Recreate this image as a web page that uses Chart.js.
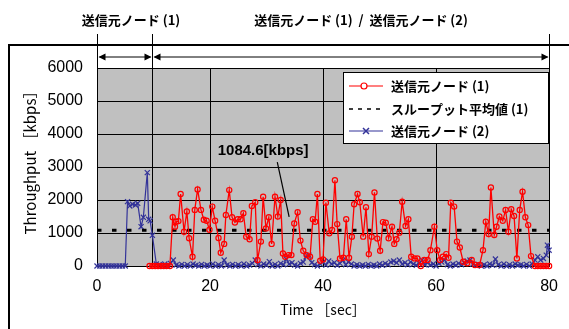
<!DOCTYPE html>
<html>
<head>
<meta charset="utf-8">
<script src="https://cdn.jsdelivr.net/npm/chart.js@4"></script>
<style>
body { margin: 0; background: #fff; }
</style>
</head>
<body>
<canvas id="chart" width="569" height="329"></canvas>
<script>
var node1Label = "送信元ノード (1)";
var avgLabel = "スループット平均値 (1)";
var node2Label = "送信元ノード (2)";
var phaseLabels = ["送信元ノード (1)", "送信元ノード (1)  /  送信元ノード (2)"];
var phaseBounds = [0, 9.7, 80];
var avgValue = 1084.6;
var avgText = "1084.6[kbps]";
var xTicks = [0, 20, 40, 60, 80];
var yTicks = [0, 1000, 2000, 3000, 4000, 5000, 6000];

// node (1), seconds / kbps
var node1Time = [
  9.3, 9.8, 10.3, 10.8, 11.3, 11.8, 12.3, 12.9,
  13.4, 13.8, 14.0, 14.4, 14.8, 15.4, 15.9, 16.3, 16.9, 17.3,
  17.8, 18.4, 18.9, 19.4, 19.9, 20.4, 20.9, 21.5, 21.9, 22.5,
  22.8, 23.4, 23.9, 24.4, 24.9, 25.4, 25.9, 26.4, 27.0, 27.4,
  28.0, 28.4, 29.0, 29.4, 29.9, 30.4, 30.9, 31.5, 32.0, 32.5,
  32.9, 33.3, 33.9, 34.4, 34.9, 35.5, 36.0, 36.5, 37.1, 37.7,
  38.2, 38.6, 39.0, 39.5, 40.0, 40.5, 41.1, 41.6, 42.1, 42.5,
  43.0, 43.6, 44.1, 44.6, 45.1, 45.5, 46.1, 46.5, 47.1, 47.6,
  48.1, 48.6, 49.1, 49.6, 50.1, 50.6, 51.1, 51.6, 52.2, 52.6,
  53.0, 53.5, 54.0, 54.6, 55.1, 55.6, 56.2, 56.7, 57.3, 57.9,
  58.5, 59.0, 59.7, 60.2, 60.7, 61.2, 61.8, 62.2, 62.6, 63.2,
  63.7, 64.2, 64.8, 65.5, 66.3, 66.9, 67.7, 68.3, 68.8, 69.3,
  69.7, 70.3, 70.7, 71.2, 71.8, 72.3, 72.8, 73.3, 73.8, 74.3,
  74.8, 75.3, 75.8, 76.3, 76.8, 77.5, 78.0, 78.5, 79.0, 79.5, 80.0
];
var node1Kbps = [
  0, 0, 0, 0, 0, 0, 0, 0,
  1475, 1190, 1340, 1360, 2180, 1040, 1650, 840, 280, 1700,
  2320, 1700, 1400, 1370, 1100, 1800, 1370, 850, 400, 670,
  1545, 2300, 1475, 1320, 1415, 1415, 1600, 890, 810, 1820,
  1930, 180, 740, 2100, 1140, 1475, 670, 2100, 1500, 2000,
  380, 280, 330, 330, 1290, 1630, 770, 460, 330, 280,
  1415, 1340, 2180, 160, 200, 1920, 990, 1090, 2600, 1270,
  230, 250, 1415, 250, 890, 1870, 2180, 1930, 890, 1780,
  360, 890, 2230, 830, 460, 1330, 1310, 840, 1190, 670,
  810, 1010, 1950, 1210, 1415, 280, 230, 230, 0, 180,
  180, 480, 1190, 480, 180, 280, 360, 250, 1920, 1800,
  740, 560, 130, 80, 180, 30, 30, 480, 1340, 970,
  2380, 940, 1190, 1500, 1370, 1700, 1040, 1720, 1515, 230,
  1700, 2250, 1475, 1240, 300, 0, 0, 0, 0, 0, 0
];

// node (2), seconds / kbps
var node2Time = [
  0.0, 0.5, 1.0, 1.5, 2.0, 2.5, 3.0, 3.5, 4.0, 4.5, 5.0,
  5.4, 5.8, 6.3, 6.8, 7.2, 7.8, 8.2, 8.9, 9.15, 9.4, 9.8, 10.5,
  11.0, 11.5, 12.0, 12.5, 13.0, 13.5, 14.0, 14.5, 15.0, 15.5,
  16.0, 16.5, 17.0, 17.5, 18.0, 18.5, 19.0, 19.5, 20.0, 20.5,
  21.0, 21.5, 22.0, 22.5, 23.0, 23.5, 24.0, 24.5, 25.0, 25.5,
  26.0, 26.5, 27.0, 27.5, 28.0, 28.5, 29.0, 29.5, 30.0, 30.5,
  31.0, 31.5, 32.0, 32.5, 33.0, 33.5, 34.0, 34.5, 35.0, 35.5,
  36.0, 36.5, 37.0, 37.5, 38.0, 38.5, 39.0, 39.5, 40.0, 40.5,
  41.0, 41.5, 42.0, 42.5, 43.0, 43.5, 44.0, 44.5, 45.0, 45.5,
  46.0, 46.5, 47.0, 47.5, 48.0, 48.5, 49.0, 49.5, 50.0, 50.5,
  51.0, 51.5, 52.0, 52.5, 53.0, 53.5, 54.0, 54.5, 55.0, 55.5,
  56.0, 56.5, 57.0, 57.5, 58.0, 58.5, 59.0, 59.5, 60.0, 60.5,
  61.0, 61.5, 62.0, 62.5, 63.0, 63.5, 64.0, 64.5, 65.0, 65.5,
  66.0, 66.5, 67.0, 67.5, 68.0, 68.5, 69.0, 69.5, 70.0, 70.5,
  71.0, 71.5, 72.0, 72.5, 73.0, 73.5, 74.0, 74.5, 75.0, 75.5,
  76.0, 76.5, 77.0, 77.5, 78.0, 78.5, 79.0, 79.5, 79.7, 80.0
];
var node2Kbps = [
  0, 0, 0, 0, 0, 0, 0, 0, 0, 0, 0,
  1950, 1820, 1870, 1850, 1900, 1190, 1475, 2830, 1415, 1370, 930, 60,
  40, 0, 60, 0, 80, 180, 30, 0, 50, 0,
  40, 0, 60, 20, 0, 50, 0, 30, 0, 60,
  0, 40, 0, 180, 30, 0, 50, 0, 40, 0,
  60, 0, 30, 80, 180, 40, 0, 60, 20, 130,
  0, 50, 0, 80, 40, 210, 60, 100, 30, 0,
  80, 120, 280, 330, 100, 40, 0, 60, 120, 30,
  150, 60, 100, 20, 80, 180, 40, 120, 60, 0,
  40, 0, 30, 0, 50, 0, 30, 0, 60, 20,
  80, 40, 120, 150, 100, 180, 60, 100, 40, 120,
  60, 20, 80, 180, 40, 100, 30, 60, 0, 80,
  120, 180, 40, 0, 60, 20, 80, 40, 100, 150,
  180, 60, 20, 50, 0, 40, 0, 60, 20, 210,
  40, 0, 60, 0, 40, 0, 60, 20, 40, 0,
  50, 0, 60, 180, 280, 180, 230, 330, 630, 480
];

function pairs(ts, vs) {
  return ts.map(function(t, i) { return {x: t, y: vs[i]}; });
}

var JP = '"Noto Sans CJK JP", sans-serif';
var NUM = '"Liberation Sans", Arial, sans-serif';

function drawArrow(ctx, x1, x2, y) {
  ctx.beginPath();
  ctx.moveTo(x1 + 2, y);
  ctx.lineTo(x2 - 2, y);
  ctx.stroke();
  ctx.beginPath();
  ctx.moveTo(x1 + 1, y);
  ctx.lineTo(x1 + 8, y - 3.5);
  ctx.lineTo(x1 + 8, y + 3.5);
  ctx.closePath();
  ctx.fill();
  ctx.beginPath();
  ctx.moveTo(x2 - 1, y);
  ctx.lineTo(x2 - 8, y - 3.5);
  ctx.lineTo(x2 - 8, y + 3.5);
  ctx.closePath();
  ctx.fill();
}

var decor = {
  id: 'decor',
  beforeDraw: function(chart) {
    var ctx = chart.ctx, a = chart.chartArea;
    ctx.save();
    ctx.fillStyle = '#fff';
    ctx.fillRect(0, 0, chart.width, chart.height);
    ctx.fillStyle = '#C0C0C0';
    ctx.fillRect(a.left, a.top, a.right - a.left, a.bottom - a.top);
    ctx.restore();
  },
  beforeDatasetsDraw: function(chart) {
    var ctx = chart.ctx, a = chart.chartArea, xs = chart.scales.x;
    ctx.save();
    ctx.strokeStyle = '#000';
    ctx.lineWidth = 1;
    var px = Math.round(xs.getPixelForValue(phaseBounds[1])) + 0.5;
    ctx.beginPath();
    ctx.moveTo(px, a.top);
    ctx.lineTo(px, a.bottom);
    ctx.stroke();
    ctx.restore();
  },
  afterDraw: function(chart) {
    var ctx = chart.ctx, a = chart.chartArea, xs = chart.scales.x, ys = chart.scales.y;
    ctx.save();

    // outer frame
    ctx.strokeStyle = '#000';
    ctx.lineWidth = 2;
    ctx.strokeRect(9, 45, 600, 400);

    // phase markers above the plot
    ctx.lineWidth = 1;
    ctx.fillStyle = '#000';
    var bx = phaseBounds.map(function(b) { return Math.round(xs.getPixelForValue(b)) + 0.5; });
    bx.forEach(function(x) {
      ctx.beginPath();
      ctx.moveTo(x, 34);
      ctx.lineTo(x, a.top);
      ctx.stroke();
    });
    drawArrow(ctx, bx[0], bx[1], 57);
    drawArrow(ctx, bx[1], bx[2], 57);
    ctx.font = 'bold 13px ' + JP;
    ctx.textAlign = 'center';
    ctx.textBaseline = 'middle';
    ctx.fillText(phaseLabels[0], 131, 20);
    ctx.fillText(phaseLabels[1], 361, 20);

    // y axis title
    ctx.save();
    ctx.translate(30, 159);
    ctx.rotate(-Math.PI / 2);
    ctx.font = '15px ' + JP;
    ctx.fillText('Throughput ［kbps］', 0, 0);
    ctx.restore();

    // average annotation
    ctx.font = 'bold 15px ' + NUM;
    ctx.fillText(avgText, xs.getPixelForValue(29.4), ys.getPixelForValue(3485));
    ctx.lineWidth = 1.2;
    ctx.beginPath();
    ctx.moveTo(xs.getPixelForValue(31.9), ys.getPixelForValue(3150));
    ctx.lineTo(xs.getPixelForValue(34.0), ys.getPixelForValue(1485));
    ctx.stroke();

    // legend
    var lx = 343, ly = 72, lw = 205, lh = 71;
    ctx.fillStyle = '#fff';
    ctx.fillRect(lx, ly, lw, lh);
    ctx.lineWidth = 1;
    ctx.strokeStyle = '#000';
    ctx.strokeRect(lx + 0.5, ly + 0.5, lw, lh);
    var rows = [86, 109, 131];
    chart.data.datasets.forEach(function(ds, i) {
      var y = rows[i];
      ctx.save();
      ctx.strokeStyle = ds.borderColor;
      ctx.lineWidth = i === 1 ? 1.5 : 1.2;
      ctx.setLineDash(i === 1 ? [4, 5] : []);
      ctx.beginPath();
      ctx.moveTo(349, y);
      ctx.lineTo(383, y);
      ctx.stroke();
      ctx.setLineDash([]);
      if (i === 0) {
        ctx.fillStyle = '#fff';
        ctx.beginPath();
        ctx.arc(364, y, 3, 0, Math.PI * 2);
        ctx.fill();
        ctx.stroke();
      } else if (i === 2) {
        ctx.lineWidth = 1.5;
        ctx.beginPath();
        ctx.moveTo(363, y - 3); ctx.lineTo(369, y + 3);
        ctx.moveTo(369, y - 3); ctx.lineTo(363, y + 3);
        ctx.stroke();
      }
      ctx.restore();
      ctx.fillStyle = '#000';
      ctx.font = 'bold 13px ' + JP;
      ctx.textAlign = 'left';
      ctx.fillText(ds.label, 391, y);
    });
    ctx.restore();
  }
};

var chart = new Chart(document.getElementById('chart').getContext('2d'), {
  type: 'line',
  data: {
    datasets: [{
      label: node1Label,
      data: pairs(node1Time, node1Kbps),
      clip: false,
      borderColor: '#FF0000',
      backgroundColor: 'rgba(0,0,0,0)',
      borderWidth: 1.3,
      pointStyle: 'circle',
      pointRadius: 2.6,
      pointBorderWidth: 1.2,
      pointBorderColor: '#FF0000',
      pointBackgroundColor: 'rgba(0,0,0,0)'
    }, {
      label: avgLabel,
      data: [{x: xTicks[0], y: avgValue}, {x: xTicks[xTicks.length - 1], y: avgValue}],
      borderColor: '#000',
      borderWidth: 3,
      borderDash: [4.5, 10.5],
      borderCapStyle: 'butt',
      pointRadius: 0
    }, {
      label: node2Label,
      data: pairs(node2Time, node2Kbps),
      clip: false,
      borderColor: '#333399',
      backgroundColor: 'rgba(0,0,0,0)',
      borderWidth: 1.2,
      pointStyle: 'crossRot',
      pointRadius: 3.6,
      pointBorderWidth: 1.2,
      pointBorderColor: '#333399'
    }]
  },
  options: {
    responsive: false,
    animation: false,
    devicePixelRatio: 1,
    layout: { padding: { top: 68, right: 19, left: 0, bottom: 0 } },
    elements: { line: { tension: 0 } },
    plugins: {
      legend: { display: false },
      tooltip: { enabled: false }
    },
    scales: {
      x: {
        type: 'linear',
        min: 0,
        max: 80,
        afterBuildTicks: function(s) { s.ticks = xTicks.map(function(v) { return {value: v}; }); },
        afterFit: function(s) { s.height = 63; },
        ticks: { padding: 11, color: '#000', font: { family: NUM, size: 16 }, callback: function(v) { return String(v); } },
        grid: { color: '#000', lineWidth: 1, drawTicks: false },
        border: { color: '#000', width: 1 },
        title: {
          display: true,
          text: 'Time ［sec］',
          color: '#000',
          font: { family: JP, size: 14 },
          padding: { top: 0, bottom: 10.6 }
        }
      },
      y: {
        min: 0,
        max: 6000,
        afterBuildTicks: function(s) { s.ticks = yTicks.map(function(v) { return {value: v}; }); },
        afterFit: function(s) { s.width = 97; },
        ticks: { padding: 14, color: '#000', font: { family: NUM, size: 16 }, callback: function(v) { return String(v); } },
        grid: { color: '#000', lineWidth: 1, drawTicks: false },
        border: { color: '#000', width: 1 }
      }
    }
  },
  plugins: [decor]
});
</script>
</body>
</html>
